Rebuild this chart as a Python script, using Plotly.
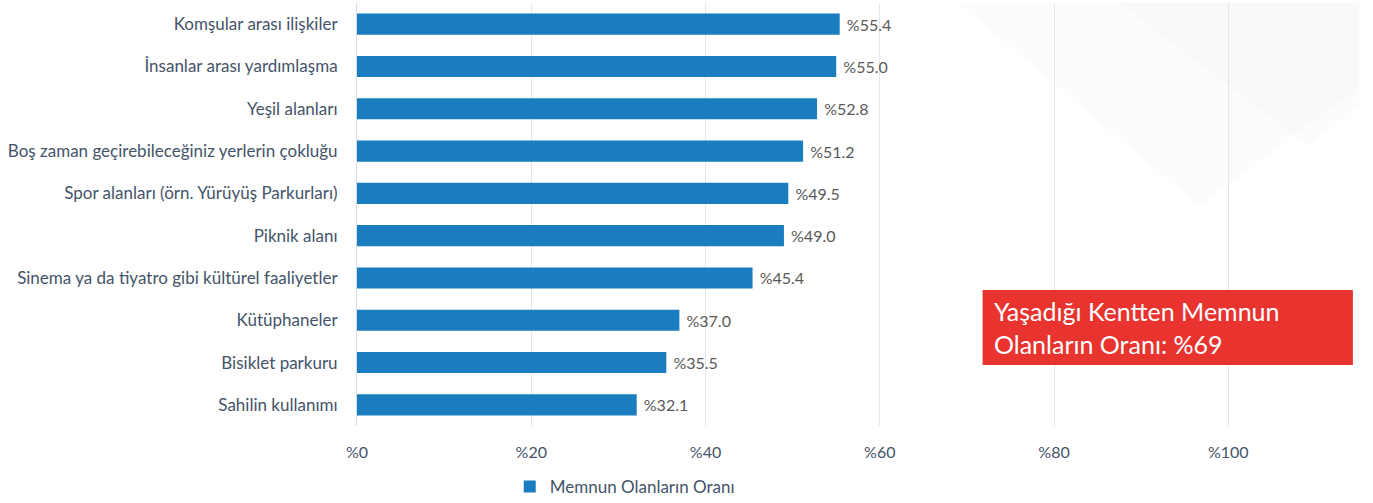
import plotly.graph_objects as go

kategoriler = [
    "Komşular arası ilişkiler",
    "İnsanlar arası yardımlaşma",
    "Yeşil alanları",
    "Boş zaman geçirebileceğiniz yerlerin çokluğu",
    "Spor alanları (örn. Yürüyüş Parkurları)",
    "Piknik alanı",
    "Sinema ya da tiyatro gibi kültürel faaliyetler",
    "Kütüphaneler",
    "Bisiklet parkuru",
    "Sahilin kullanımı",
]
memnun_oran = [55.4, 55.0, 52.8, 51.2, 49.5, 49.0, 45.4, 37.0, 35.5, 32.1]
seri_adi = "Memnun Olanların Oranı"
x_tick_vals = [0, 20, 40, 60, 80, 100]
x_tick_text = ["%0", "%20", "%40", "%60", "%80", "%100"]
kutu_metni = "Yaşadığı Kentten Memnun<br>Olanların Oranı: %69"

FONT = "Lato"
TEXT_COLOR = "#44546a"

fig = go.Figure()
fig.add_trace(go.Bar(
    y=kategoriler,
    x=memnun_oran,
    orientation="h",
    name=seri_adi,
    marker=dict(color="#1a7dc0", line=dict(width=0)),
    width=0.5,
    text=[f" %{v:.1f}" for v in memnun_oran],
    textposition="outside",
    textfont=dict(family=FONT, size=16, color="#595959"),
    cliponaxis=False,
    showlegend=True,
))

# soluk arka plan desenleri
bg_shapes = [
    "M 0.60 1.0 L 0.84 0.52 L 1.0 0.80 L 1.0 1.0 Z",
    "M 0.76 1.0 L 0.95 0.66 L 1.0 0.76 L 1.0 1.0 Z",
]
for p in bg_shapes:
    fig.add_shape(type="path", path=p, xref="paper", yref="paper",
                  fillcolor="rgba(0,0,0,0.012)", line=dict(width=0), layer="below")

# kırmızı kutu
fig.add_shape(type="rect", xref="x", yref="paper",
              x0=71.8, x1=114.3, y0=0.144, y1=0.3215,
              fillcolor="#e8332f", line=dict(width=0), layer="above")
fig.add_annotation(x=72.9, y=0.2325, xref="x", yref="paper",
                   text=kutu_metni, showarrow=False, xanchor="left", yanchor="middle",
                   align="left", font=dict(family=FONT, size=25, color="white"))

fig.update_layout(
    width=1373, height=503,
    margin=dict(l=357, r=14, t=3, b=77, autoexpand=False),
    paper_bgcolor="white", plot_bgcolor="rgba(0,0,0,0)",
    font=dict(family=FONT, color=TEXT_COLOR, size=16),
    bargap=0.5,
    legend=dict(orientation="h", xref="container", x=0.455, xanchor="center",
                yref="container", y=0.032, yanchor="middle",
                font=dict(family=FONT, size=17, color=TEXT_COLOR), itemwidth=30),
)
fig.update_xaxes(range=[0, 115], tickvals=x_tick_vals, ticktext=x_tick_text,
                 showgrid=True, gridcolor="#e4e7ea", gridwidth=1,
                 zeroline=False, showline=False, ticklabelstandoff=15,
                 tickfont=dict(family=FONT, size=16, color=TEXT_COLOR))
fig.update_yaxes(autorange="reversed", showline=True, linecolor="#d5dde3", linewidth=1,
                 ticklabelstandoff=15, tickfont=dict(family=FONT, size=17, color=TEXT_COLOR),
                 showgrid=False)

fig.write_html("out.html", config={"displayModeBar": False},
               post_script="document.body.style.margin='0';")
